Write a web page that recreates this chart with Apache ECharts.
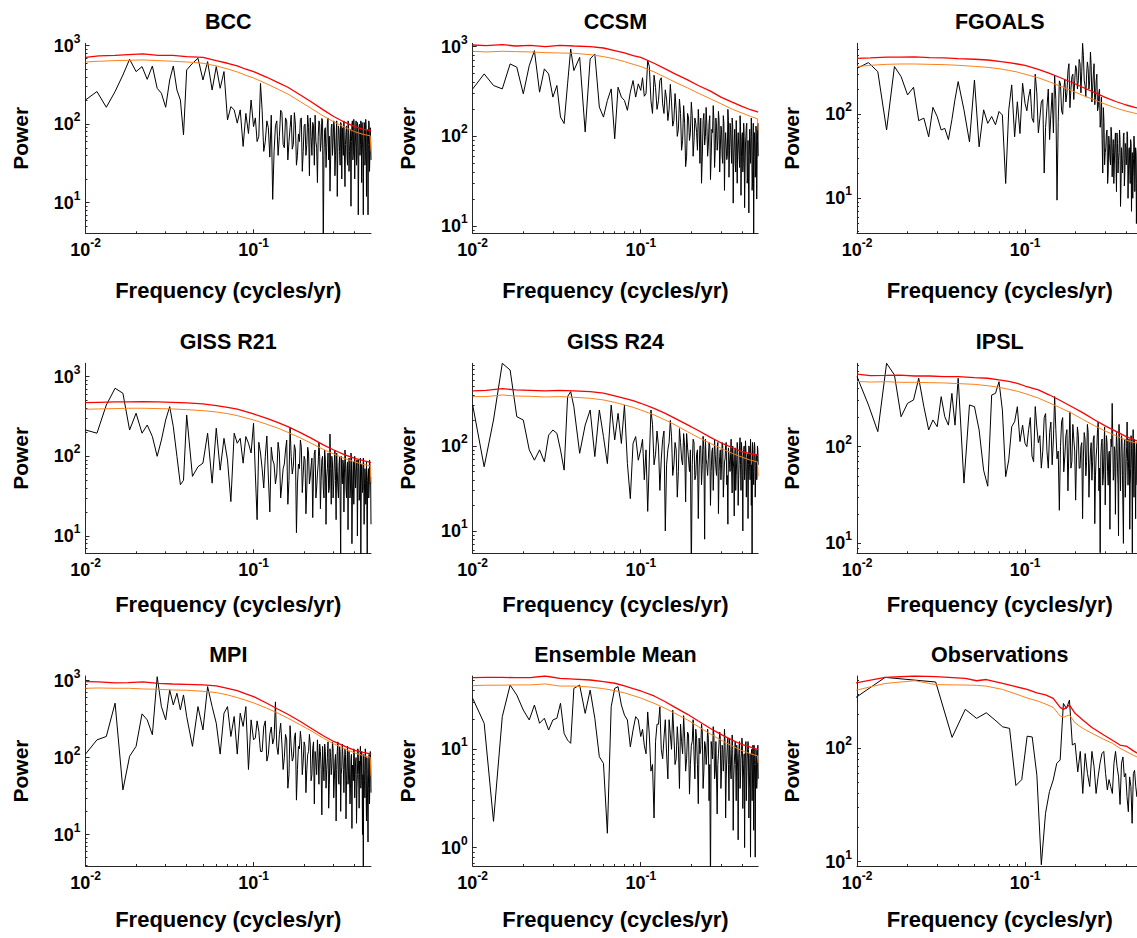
<!DOCTYPE html>
<html>
<head>
<meta charset="utf-8">
<title>Power spectra</title>
<script src="https://cdn.jsdelivr.net/npm/echarts@6/dist/echarts.min.js"></script>
<style>
  html, body { margin: 0; padding: 0; background: #fff; }
  #chart { width: 1137px; height: 938px; }
</style>
</head>
<body>
<div id="chart"></div>
<script>
// frequency grid of the model spectra (cycles/yr)
const fModel = [
  0.0100, 0.0117, 0.0133, 0.0150, 0.0167, 0.0183, 0.0200, 0.0217, 0.0233, 0.0250,
  0.0267, 0.0283, 0.0300, 0.0317, 0.0333, 0.0350, 0.0367, 0.0383, 0.0400,
  0.0433, 0.0467, 0.0500, 0.0533, 0.0567, 0.0600, 0.0633, 0.0667, 0.0700, 0.0733,
  0.0767, 0.0800, 0.0833, 0.0867, 0.0900, 0.0933, 0.0967, 0.1000,
  0.105, 0.110, 0.115, 0.120, 0.125, 0.130, 0.135, 0.140, 0.145, 0.150,
  0.155, 0.160, 0.165, 0.170, 0.175, 0.180, 0.185, 0.190, 0.195, 0.200,
  0.205, 0.210, 0.215, 0.220, 0.225, 0.230, 0.235, 0.240, 0.245, 0.250,
  0.255, 0.260, 0.265, 0.270, 0.275, 0.280, 0.285, 0.290, 0.295, 0.300,
  0.305, 0.310, 0.315, 0.320, 0.325, 0.330, 0.335, 0.340, 0.345, 0.350,
  0.355, 0.360, 0.365, 0.370, 0.375, 0.380, 0.385, 0.390, 0.395, 0.400,
  0.405, 0.410, 0.415, 0.420, 0.425, 0.430, 0.435, 0.440, 0.445, 0.450,
  0.455, 0.460, 0.465, 0.470, 0.475, 0.480, 0.485, 0.490, 0.495, 0.500
];
// in-between high frequencies (dense part of the spectra)
const fModel2 = [
  0.1025, 0.1075, 0.1125, 0.1175, 0.1225, 0.1275, 0.1325, 0.1375, 0.1425, 0.1475,
  0.1525, 0.1575, 0.1625, 0.1675, 0.1725, 0.1775, 0.1825, 0.1875, 0.1925, 0.1975,
  0.2025, 0.2075, 0.2125, 0.2175, 0.2225, 0.2275, 0.2325, 0.2375, 0.2425, 0.2475,
  0.2525, 0.2575, 0.2625, 0.2675, 0.2725, 0.2775, 0.2825, 0.2875, 0.2925, 0.2975,
  0.3025, 0.3075, 0.3125, 0.3175, 0.3225, 0.3275, 0.3325, 0.3375, 0.3425, 0.3475,
  0.3525, 0.3575, 0.3625, 0.3675, 0.3725, 0.3775, 0.3825, 0.3875, 0.3925, 0.3975,
  0.4025, 0.4075, 0.4125, 0.4175, 0.4225, 0.4275, 0.4325, 0.4375, 0.4425, 0.4475,
  0.4525, 0.4575, 0.4625, 0.4675, 0.4725, 0.4775, 0.4825, 0.4875, 0.4925, 0.4975
];

// black spectra, one value per fModel entry
const bccPow = [
  203, 260, 164, 260, 423, 670, 467, 540, 372, 550, 286, 247, 164, 365, 550, 272, 203, 73, 490,
  595, 690, 365, 625, 272, 540, 286, 467, 113, 167, 152, 103, 152, 52, 137, 76, 203, 93,
  60, 330, 45, 110, 38, 11, 95, 40, 150, 55,
  120, 35, 90, 48, 140, 30, 75, 115, 25, 95,
  40, 130, 22, 70, 105, 30, 60, 18, 110, 45,
  118, 3, 85, 28, 100, 35, 14, 90, 40, 110,
  22, 70, 12, 95, 45, 105, 20, 60, 110, 16,
  80, 40, 110, 25, 65, 9, 100, 35, 115, 20,
  75, 30, 105, 7, 90, 40, 110, 18, 60, 7,
  105, 30, 115, 12, 80, 7, 110, 25, 90, 35
];
const bccPow2 = [
  120, 70, 150, 60, 90, 130, 45, 110, 70, 140,
  50, 110, 60, 130, 55, 100, 40, 60, 120, 45,
  100, 55, 90, 120, 40, 95, 130, 50, 70, 100,
  60, 110, 40, 90, 50, 120, 70, 35, 100, 60,
  95, 40, 110, 50, 85, 30, 100, 90, 40, 110,
  55, 95, 30, 105, 45, 85, 60, 110, 40, 85,
  50, 110, 40, 95, 30, 100, 55, 90, 105, 40,
  65, 100, 35, 95, 45, 85, 55, 100, 40, 60
];
const ccsmPow = [
  338, 497, 369, 338, 642, 590, 298, 614, 903, 311, 565, 497, 274, 369, 164, 139, 385, 942, 541,
  761, 112, 730, 829, 212, 164, 251, 338, 94, 353, 274, 251, 195, 311, 419, 274, 385, 325,
  280, 700, 250, 480, 200, 420, 230, 330, 150, 380,
  130, 300, 100, 260, 70, 220, 46, 180, 90, 240,
  60, 160, 110, 200, 50, 30, 150, 80, 210, 60,
  140, 33, 120, 220, 45, 160, 70, 190, 40, 130,
  60, 170, 25, 110, 55, 200, 35, 140, 75, 160,
  18, 90, 50, 150, 30, 110, 60, 170, 22, 100,
  40, 140, 16, 80, 130, 30, 90, 14, 120, 50,
  160, 25, 70, 8, 110, 35, 130, 20, 90, 60
];
const ccsmPow2 = [
  450, 300, 600, 180, 350, 250, 450, 180, 260, 200,
  240, 150, 200, 120, 180, 90, 140, 60, 160, 110,
  170, 90, 140, 70, 130, 160, 60, 180, 100, 130,
  80, 170, 60, 110, 150, 70, 130, 90, 150, 70,
  120, 50, 140, 80, 110, 60, 150, 70, 120, 50,
  130, 60, 120, 40, 150, 80, 110, 45, 130, 60,
  110, 50, 100, 40, 80, 140, 35, 90, 60, 120,
  50, 100, 30, 140, 60, 80, 40, 110, 55, 140
];
const fgoalsPow = [
  353, 412, 322, 65, 370, 281, 170, 210, 84, 90, 54, 121, 94, 65, 68, 50, 86, 151, 245,
  113, 47, 256, 41, 113, 78, 94, 75, 108, 98, 15, 113, 224, 54, 141, 59, 234, 135,
  160, 90, 300, 60, 140, 20, 120, 50, 180, 290,
  9.5, 250, 110, 200, 140, 330, 120, 280, 150, 380,
  200, 450, 180, 700, 250, 160, 420, 200, 550, 140,
  300, 130, 250, 110, 180, 70, 160, 20, 80, 35,
  60, 15, 55, 30, 70, 18, 50, 25, 60, 12,
  45, 28, 65, 8, 40, 20, 55, 14, 45, 25,
  62, 10, 38, 22, 50, 7, 35, 18, 55, 12,
  40, 5, 30, 20, 45, 10, 30, 15, 35, 20
];
const fgoalsPow2 = [
  110, 200, 80, 180, 90, 150, 70, 200, 100, 60,
  150, 80, 230, 100, 260, 180, 400, 200, 300, 250,
  350, 250, 400, 320, 500, 220, 300, 350, 250, 380,
  200, 400, 160, 300, 120, 200, 90, 50, 120, 25,
  40, 65, 20, 45, 25, 55, 35, 15, 45, 30,
  60, 20, 35, 50, 15, 40, 30, 60, 20, 40,
  30, 55, 20, 40, 15, 45, 25, 10, 30, 40,
  20, 35, 15, 40, 25, 12, 40, 25, 15, 30
];
const r21Pow = [
  214, 195, 440, 715, 618, 214, 347, 195, 247, 177, 100, 160, 286, 420, 236, 100, 44, 50, 330,
  56, 74, 82, 195, 46, 225, 67, 168, 90, 27, 195, 146, 168, 82, 177, 146, 110, 260,
  16, 110, 40, 180, 20, 90, 45, 150, 30, 70,
  120, 25, 230, 60, 140, 11, 80, 160, 35, 100,
  19, 130, 45, 75, 17, 110, 30, 60, 150, 22,
  90, 40, 120, 14, 70, 35, 190, 25, 80, 45,
  120, 16, 65, 30, 100, 6, 55, 90, 20, 120,
  40, 70, 12, 95, 30, 110, 8, 60, 25, 100,
  40, 75, 10, 90, 28, 60, 6, 80, 35, 95,
  14, 70, 25, 85, 5, 60, 30, 90, 45, 14
];
const r21Pow2 = [
  60, 150, 70, 100, 55, 130, 80, 60, 110, 45,
  80, 160, 50, 100, 75, 120, 45, 70, 130, 60,
  90, 40, 110, 55, 95, 60, 120, 40, 80, 100,
  50, 100, 30, 90, 55, 110, 40, 70, 100, 30,
  85, 50, 110, 40, 75, 30, 100, 45, 80, 60,
  95, 30, 85, 55, 70, 40, 95, 30, 85, 55,
  70, 40, 90, 50, 75, 30, 95, 45, 65, 40,
  80, 45, 60, 30, 85, 50, 70, 40, 80, 55
];
const r24Pow = [
  303, 57, 202, 939, 783, 221, 202, 90, 68, 90, 65, 134, 154, 141, 90, 52, 381, 436, 290,
  82, 176, 265, 75, 265, 129, 62, 303, 118, 242, 107, 303, 62, 24, 107, 129, 68, 90,
  40, 17, 265, 60, 150, 30, 120, 10, 90, 200,
  45, 110, 25, 160, 70, 140, 22, 95, 50, 3,
  120, 40, 80, 14, 100, 35, 130, 8, 70, 45,
  110, 20, 85, 30, 120, 55, 90, 16, 75, 40,
  110, 25, 65, 100, 35, 12, 80, 50, 120, 28,
  70, 15, 95, 45, 110, 20, 60, 125, 30, 80,
  10, 90, 40, 115, 25, 70, 14, 100, 50, 120,
  20, 3, 90, 35, 110, 25, 70, 40, 100, 60
];
const r24Pow2 = [
  120, 90, 70, 180, 80, 100, 70, 150, 60, 110,
  130, 60, 90, 50, 110, 60, 100, 140, 70, 90,
  60, 110, 45, 90, 55, 100, 60, 90, 120, 60,
  70, 100, 50, 95, 60, 80, 45, 110, 50, 90,
  60, 100, 40, 70, 110, 45, 95, 60, 80, 50,
  100, 55, 80, 30, 70, 90, 40, 100, 60, 110,
  45, 70, 100, 50, 90, 45, 80, 60, 95, 40,
  85, 60, 110, 50, 70, 95, 40, 80, 50, 90
];
const ipslPow = [
  530, 270, 143, 728, 552, 204, 281, 304, 510, 259, 149, 189, 161, 329, 204, 167, 356, 167, 510,
  42, 270, 259, 149, 57, 39, 342, 356, 470, 240, 49, 73, 161, 181, 259, 113, 167, 108,
  150, 80, 260, 110, 60, 200, 90, 140, 65, 330,
  75, 22, 180, 55, 130, 35, 230, 70, 120, 28,
  160, 60, 100, 18, 140, 50, 170, 30, 90, 45,
  120, 16, 80, 150, 35, 8, 110, 40, 95, 25,
  130, 55, 85, 14, 120, 280, 45, 100, 20, 140,
  60, 12, 90, 35, 130, 50, 10, 110, 30, 75,
  180, 40, 120, 14, 60, 95, 8, 150, 30, 80,
  18, 110, 40, 70, 20, 90, 35, 60, 15, 50
];
const ipslPow2 = [
  100, 200, 70, 160, 130, 90, 220, 60, 180, 120,
  150, 90, 100, 200, 80, 150, 100, 60, 170, 90,
  80, 130, 60, 110, 80, 120, 70, 140, 60, 110,
  70, 130, 50, 100, 180, 60, 80, 120, 50, 160,
  70, 110, 40, 90, 60, 100, 130, 50, 90, 70,
  110, 40, 170, 60, 90, 120, 50, 80, 120, 45,
  100, 70, 60, 110, 40, 130, 60, 90, 50, 120,
  55, 80, 45, 130, 55, 100, 40, 90, 70, 100
];
const mpiPow = [
  111, 170, 188, 510, 38, 104, 140, 370, 309, 198, 1125, 460, 309, 757, 484, 685, 417, 652, 342,
  140, 460, 229, 836, 460, 280, 111, 377, 460, 188, 342, 111, 377, 254, 460, 70, 309, 170,
  300, 120, 250, 90, 200, 150, 530, 110, 280, 70,
  200, 40, 260, 90, 180, 28, 140, 220, 60, 160,
  35, 110, 200, 50, 130, 25, 90, 170, 45, 120,
  18, 80, 150, 40, 100, 22, 130, 60, 160, 30,
  90, 15, 120, 50, 140, 20, 75, 110, 35, 130,
  16, 85, 45, 120, 25, 95, 12, 70, 130, 30,
  90, 14, 60, 110, 22, 80, 40, 120, 10, 3,
  70, 30, 100, 15, 60, 8, 90, 25, 120, 35
];
const mpiPow2 = [
  180, 220, 120, 300, 110, 250, 180, 140, 200, 150,
  100, 170, 60, 140, 100, 210, 70, 130, 160, 90,
  140, 70, 120, 150, 60, 160, 120, 60, 100, 150,
  70, 140, 50, 120, 70, 160, 45, 100, 80, 130,
  50, 110, 70, 160, 45, 120, 60, 150, 70, 90,
  110, 50, 140, 60, 120, 40, 110, 80, 50, 120,
  60, 100, 40, 130, 60, 90, 140, 50, 80, 60,
  110, 50, 130, 40, 100, 60, 40, 110, 55, 90
];
const ensPow = [
  33, 18.4, 1.85, 21.5, 45, 35.6, 25.1, 19.9, 28.2, 18.4, 20.7, 15.7, 19.9, 20.7, 29.4, 14.5, 12.4, 11.5, 41.7,
  45, 23.2, 40, 20.7, 8.4, 7.2, 1.4, 27.2, 41.7, 43.4, 28.2, 22.3, 19.9, 10.6, 15.7, 21.5, 19.9, 13.5,
  11, 24, 6, 2.0, 18, 27, 8, 20, 5, 14,
  25, 7, 17, 4, 12, 22, 6, 15, 3.5, 11,
  20, 5, 13, 2.8, 9, 18, 4, 12, 7, 16,
  3, 0.4, 10, 17, 5, 12, 2.2, 9, 15, 4,
  11, 6, 16, 2, 8, 13, 3, 10, 5, 14,
  1.5, 7, 12, 3, 9, 1.2, 11, 4, 8, 13,
  2.5, 7, 1.0, 10, 3, 8, 12, 2, 6, 0.8,
  9, 3, 11, 1.5, 7, 0.8, 10, 4, 8, 5
];
const ensPow2 = [
  16, 9, 14, 7, 12, 18, 10, 13, 9, 20,
  10, 14, 8, 11, 18, 9, 13, 8, 14, 7,
  12, 9, 16, 7, 13, 10, 15, 6, 11, 9,
  13, 7, 12, 8, 14, 6, 12, 7, 9, 13,
  6, 10, 8, 12, 5, 11, 7, 13, 6, 9,
  10, 5, 9, 7, 11, 6, 8, 12, 5, 9,
  11, 5, 9, 6, 12, 5, 8, 10, 4, 9,
  6, 10, 5, 8, 11, 4, 7, 9, 5, 11
];

// red-noise fits (red = upper bound, orange = background) on a coarse grid
const fFit = [0.01, 0.012, 0.015, 0.018, 0.022, 0.027, 0.033, 0.04, 0.05, 0.06, 0.07, 0.08, 0.09,
  0.1, 0.12, 0.14, 0.16, 0.19, 0.22, 0.26, 0.3, 0.35, 0.4, 0.45, 0.495, 0.5];
const bccRed = [710, 738, 753, 768, 783, 753, 753, 724, 710, 644, 596, 551, 500, 467, 395, 338, 295, 235, 193, 152, 125, 105, 93, 86, 83, 83];
const bccOrange = [619, 632, 644, 650, 657, 644, 632, 619, 596, 551, 505, 462, 419, 387, 325, 278, 242, 193, 159, 127, 107, 91, 80, 74, 71, 45];
const ccsmRed = [1043, 1026, 1052, 1017, 1035, 1000, 1035, 1017, 1000, 966, 903, 850, 794, 761, 653, 565, 497, 426, 369, 319, 274, 241, 216, 198, 187, 187];
const ccsmOrange = [888, 873, 888, 880, 873, 858, 850, 843, 815, 774, 730, 681, 636, 600, 523, 456, 402, 347, 303, 262, 231, 201, 182, 167, 157, 116];
const fgoalsRed = [464, 469, 478, 478, 482, 473, 469, 460, 452, 443, 427, 412, 397, 383, 343, 307, 276, 239, 210, 181, 159, 141, 129, 121, 115, 115];
const fgoalsOrange = [370, 383, 393, 397, 397, 393, 390, 383, 372, 362, 349, 333, 318, 300, 272, 243, 218, 191, 168, 148, 132, 118, 109, 103, 98, 98];
const r21Red = [471, 476, 481, 481, 486, 481, 476, 467, 454, 433, 412, 390, 364, 340, 300, 265, 236, 198, 169, 139, 120, 104, 94, 88, 84, 84];
const r21Orange = [389, 393, 397, 401, 401, 397, 393, 385, 374, 360, 343, 324, 303, 286, 252, 225, 200, 170, 146, 122, 107, 93, 85, 79, 76, 46];
const r24Red = [445, 450, 472, 456, 452, 445, 452, 445, 437, 418, 389, 364, 341, 318, 277, 242, 211, 177, 152, 126, 109, 96, 86, 81, 78, 78];
const r24Orange = [381, 381, 398, 387, 384, 377, 381, 374, 364, 348, 326, 304, 285, 265, 232, 202, 177, 147, 126, 107, 94, 82, 74, 68, 65, 44];
const ipslRed = [564, 542, 546, 550, 538, 538, 530, 530, 518, 510, 490, 474, 452, 424, 386, 342, 304, 259, 225, 189, 164, 143, 127, 117, 111, 111];
const ipslOrange = [473, 466, 470, 463, 463, 459, 456, 449, 441, 427, 411, 392, 374, 354, 318, 283, 255, 221, 192, 164, 145, 129, 117, 110, 106, 106];
const mpiRed = [971, 961, 933, 942, 961, 924, 905, 896, 879, 853, 796, 742, 672, 620, 509, 425, 366, 294, 241, 192, 162, 140, 124, 117, 112, 112];
const mpiOrange = [796, 803, 796, 796, 780, 772, 757, 750, 727, 699, 652, 602, 556, 514, 438, 377, 325, 266, 223, 179, 151, 129, 115, 106, 101, 57];
const ensRed = [53.5, 54, 54, 53.5, 53.5, 55.7, 52.6, 51.8, 50.7, 48.8, 47, 44.2, 41.4, 39.2, 34.9, 30.5, 26.7, 22.7, 19.4, 16.3, 14.2, 12.4, 11.2, 10.5, 10, 10];
const ensOrange = [44.4, 44.9, 44.9, 45.2, 45.2, 46.3, 44, 44, 43, 41.4, 39.5, 37.5, 35.2, 33.3, 29.4, 26.1, 23.2, 19.9, 17, 14.3, 12.4, 10.8, 9.7, 9, 8.6, 7.2];

// observations (shorter record, coarser grid)
const fObs = [
  0.0074, 0.0147, 0.0221, 0.0294, 0.0368, 0.0441, 0.0515, 0.0588, 0.0662, 0.0735,
  0.0809, 0.0882, 0.0956, 0.1029, 0.1103, 0.1176, 0.1250, 0.1324, 0.1397, 0.1471,
  0.1544, 0.1618, 0.1691, 0.1765, 0.1838, 0.1912, 0.1985, 0.2059, 0.2132, 0.2206,
  0.2279, 0.2353, 0.2426, 0.2500, 0.2574, 0.2647, 0.2721, 0.2794, 0.2868, 0.2941,
  0.3015, 0.3088, 0.3162, 0.3235, 0.3309, 0.3382, 0.3456, 0.3529, 0.3603, 0.3676,
  0.3750, 0.3824, 0.3897, 0.3971, 0.4044, 0.4118, 0.4191, 0.4265, 0.4338, 0.4412,
  0.4485, 0.4559, 0.4632, 0.4706, 0.4779, 0.4853, 0.4926, 0.5000
];
const obsPow = [
  210, 423, 400, 385, 125, 221, 184, 206, 178, 155,
  150, 47, 53, 128, 126, 58, 9.4, 26.7, 41.5, 52.6,
  73.7, 79, 249, 225, 267, 107, 111, 62, 94, 40,
  90, 60, 46, 94, 69, 40, 56, 74, 90, 94,
  60, 43, 53, 46, 40, 74, 94, 69, 56, 32,
  74, 84, 56, 60, 37.5, 27.6, 56, 46, 21.8, 60,
  64, 46, 37.5, 53, 79, 46, 64, 40
];
const fObsFit = [0.0074, 0.0147, 0.0221, 0.0294, 0.0441, 0.0515, 0.0588, 0.0735, 0.0882, 0.1029,
  0.1176, 0.1324, 0.1471, 0.1618, 0.1691, 0.1765, 0.1838, 0.1985, 0.2206, 0.25, 0.2941, 0.3309,
  0.3676, 0.4044, 0.4412, 0.4706, 0.5];
const obsRed = [350, 423, 435, 429, 414, 395, 405, 374, 350, 331, 309, 296, 276, 230, 221, 230, 241, 204, 178, 153, 131, 118, 107, 104, 95, 90, 87];
const obsOrange = [295, 374, 395, 365, 362, 360, 354, 331, 302, 278, 263, 246, 230, 193, 188, 193, 197, 168, 150, 136, 120, 111, 100, 93, 87, 83, 80];

const titles = ['BCC', 'CCSM', 'FGOALS', 'GISS R21', 'GISS R24', 'IPSL', 'MPI', 'Ensemble Mean', 'Observations'];
const yRanges = [[4.07, 1070], [8.3, 1090], [3.83, 700], [6.06, 1470], [5.46, 939],
  [7.9, 728], [3.9, 1149], [0.65, 55.7], [9.16, 435]];

const panels = [
  {f: fModel, pow: bccPow, f2: fModel2, pow2: bccPow2, fFit: fFit, red: bccRed, orange: bccOrange},
  {f: fModel, pow: ccsmPow, f2: fModel2, pow2: ccsmPow2, fFit: fFit, red: ccsmRed, orange: ccsmOrange},
  {f: fModel, pow: fgoalsPow, f2: fModel2, pow2: fgoalsPow2, fFit: fFit, red: fgoalsRed, orange: fgoalsOrange},
  {f: fModel, pow: r21Pow, f2: fModel2, pow2: r21Pow2, fFit: fFit, red: r21Red, orange: r21Orange},
  {f: fModel, pow: r24Pow, f2: fModel2, pow2: r24Pow2, fFit: fFit, red: r24Red, orange: r24Orange},
  {f: fModel, pow: ipslPow, f2: fModel2, pow2: ipslPow2, fFit: fFit, red: ipslRed, orange: ipslOrange},
  {f: fModel, pow: mpiPow, f2: fModel2, pow2: mpiPow2, fFit: fFit, red: mpiRed, orange: mpiOrange},
  {f: fModel, pow: ensPow, f2: fModel2, pow2: ensPow2, fFit: fFit, red: ensRed, orange: ensOrange},
  {f: fObs, pow: obsPow, f2: [], pow2: [], fFit: fObsFit, red: obsRed, orange: obsOrange}
];

// layout (px)
const FONT = '"Liberation Sans", Arial, Helvetica, sans-serif';
const colLeft = [85.5, 472.7, 857];
const rowTop = [43.3, 363.3, 676];
const plotW = 285.5, plotH = 190;
const xNameGap = [46, 40, 42];

function zip(xs, ys) { return xs.map((x, i) => [x, ys[i]]); }
function decades(lo, hi) {
  const out = [];
  for (let d = Math.floor(Math.log10(lo)); d <= Math.ceil(Math.log10(hi)); d++) {
    const v = Math.pow(10, d);
    if (v >= lo * 0.9999 && v <= hi * 1.0001) out.push(v);
  }
  return out;
}
function minors(lo, hi) {
  const out = [];
  for (let d = Math.floor(Math.log10(lo)); d <= Math.ceil(Math.log10(hi)); d++) {
    for (let m = 2; m <= 9; m++) {
      const v = m * Math.pow(10, d);
      if (v > lo && v < hi) out.push(v);
    }
  }
  return out;
}
function powLabel(v) {
  const l = Math.log10(v);
  if (Math.abs(l - Math.round(l)) > 1e-6) return '';
  return '{b|10}{s|' + Math.round(l) + '}';
}
const labelRich = {
  b: {fontFamily: FONT, fontWeight: 'bold', fontSize: 18, lineHeight: 26, color: '#000'},
  s: {fontFamily: FONT, fontWeight: 'bold', fontSize: 12, lineHeight: 9, verticalAlign: 'top', color: '#000'}
};
const axisLineStyle = {color: '#262626', width: 1};

const grids = [], xAxes = [], yAxes = [], series = [], graphics = [];
panels.forEach((p, i) => {
  const col = i % 3, row = Math.floor(i / 3);
  const left = colLeft[col], top = rowTop[row];
  const [yMin, yMax] = yRanges[i];
  grids.push({left: left, top: top, width: plotW, height: plotH, outerBoundsMode: 'none', containLabel: false});

  // main axes (index 2*i) and minor-tick axes (index 2*i+1)
  xAxes.push({
    type: 'log', gridIndex: i, position: 'bottom', min: 0.01, max: 0.5,
    name: 'Frequency (cycles/yr)', nameLocation: 'middle', nameGap: xNameGap[row], nameMoveOverlap: false,
    nameTextStyle: {fontFamily: FONT, fontWeight: 'bold', fontSize: 22, color: '#000'},
    axisLine: {show: true, lineStyle: axisLineStyle},
    axisTick: {show: true, inside: true, length: 4, customValues: [0.01, 0.1], lineStyle: axisLineStyle},
    axisLabel: {show: true, margin: 4, customValues: [0.01, 0.1], formatter: powLabel, rich: labelRich},
    splitLine: {show: false}
  });
  xAxes.push({
    type: 'log', gridIndex: i, position: 'bottom', min: 0.01, max: 0.5,
    axisLine: {show: false}, axisLabel: {show: false}, splitLine: {show: false},
    axisTick: {show: true, inside: true, length: 2, customValues: minors(0.01, 0.5), lineStyle: axisLineStyle}
  });
  yAxes.push({
    type: 'log', gridIndex: i, position: 'left', min: yMin, max: yMax,
    name: 'Power', nameLocation: 'middle', nameGap: 55, nameRotate: 90, nameMoveOverlap: false,
    nameTextStyle: {fontFamily: FONT, fontWeight: 'bold', fontSize: 21, color: '#000'},
    axisLine: {show: true, lineStyle: axisLineStyle},
    axisTick: {show: true, inside: true, length: 4, customValues: decades(yMin, yMax), lineStyle: axisLineStyle},
    axisLabel: {show: true, margin: 5, customValues: decades(yMin, yMax), formatter: powLabel, rich: labelRich},
    splitLine: {show: false}
  });
  yAxes.push({
    type: 'log', gridIndex: i, position: 'left', min: yMin, max: yMax,
    axisLine: {show: false}, axisLabel: {show: false}, splitLine: {show: false},
    axisTick: {show: true, inside: true, length: 2, customValues: minors(yMin, yMax), lineStyle: axisLineStyle}
  });

  const common = {type: 'line', xAxisIndex: 2 * i, yAxisIndex: 2 * i, showSymbol: false, symbol: 'none',
    clip: true, silent: true, animation: false};
  const black = zip(p.f, p.pow).concat(zip(p.f2, p.pow2)).sort((a, b) => a[0] - b[0]);
  series.push(Object.assign({}, common, {data: black, lineStyle: {color: '#000', width: 1}}));
  series.push(Object.assign({}, common, {data: zip(p.fFit, p.red), lineStyle: {color: '#ff0000', width: 1.3}}));
  series.push(Object.assign({}, common, {data: zip(p.fFit, p.orange), lineStyle: {color: '#ff7f1a', width: 1}}));

  graphics.push({
    type: 'text', x: left + plotW / 2, y: top - 21,
    style: {text: titles[i], font: 'bold 21.5px ' + FONT, fill: '#000', align: 'center', verticalAlign: 'middle'}
  });
});

const chart = echarts.init(document.getElementById('chart'), null, {renderer: 'svg', width: 1137, height: 938});
chart.setOption({
  animation: false,
  backgroundColor: '#fff',
  grid: grids,
  xAxis: xAxes,
  yAxis: yAxes,
  series: series,
  graphic: graphics
});
</script>
</body>
</html>
